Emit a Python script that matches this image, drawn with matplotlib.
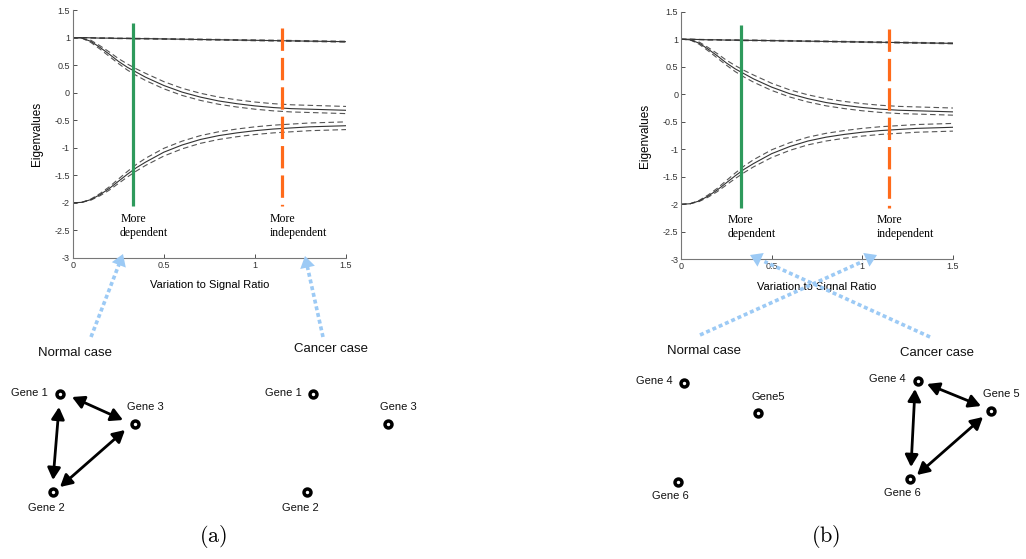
import matplotlib.pyplot as plt
from matplotlib.patches import FancyArrowPatch

plt.rcParams["axes.unicode_minus"] = False
plt.rcParams["mathtext.fontset"] = "cm"

SANS = "Liberation Sans"
SERIF = "Liberation Serif"

# eigenvalue curves vs variation-to-signal ratio (mean and +/- band)
ratio = [0.0, 0.05, 0.1, 0.15, 0.2, 0.25, 0.3, 0.35, 0.4, 0.5, 0.6, 0.7,
         0.8, 0.9, 1.0, 1.1, 1.2, 1.3, 1.4, 1.5]

top_mean = [1.0, 1.0, 0.995, 0.99, 0.99, 0.985, 0.985, 0.98, 0.98, 0.975, 0.97,
            0.965, 0.96, 0.955, 0.95, 0.945, 0.94, 0.935, 0.93, 0.925]
top_hi = [1.0, 1.0, 0.998, 0.995, 0.994, 0.99, 0.99, 0.986, 0.986, 0.981, 0.977,
          0.972, 0.967, 0.962, 0.958, 0.953, 0.948, 0.943, 0.938, 0.933]
top_lo = [1.0, 1.0, 0.992, 0.986, 0.985, 0.98, 0.979, 0.974, 0.973, 0.968, 0.963,
          0.958, 0.953, 0.948, 0.942, 0.937, 0.932, 0.927, 0.922, 0.917]

mid_mean = [1.0, 0.99, 0.93, 0.82, 0.70, 0.57, 0.46, 0.37, 0.28, 0.13, 0.01, -0.08,
            -0.15, -0.20, -0.24, -0.27, -0.29, -0.30, -0.31, -0.32]
mid_hi = [1.0, 0.99, 0.95, 0.85, 0.74, 0.62, 0.52, 0.43, 0.35, 0.20, 0.08, -0.01,
          -0.08, -0.13, -0.17, -0.20, -0.22, -0.23, -0.24, -0.25]
mid_lo = [1.0, 0.99, 0.91, 0.79, 0.66, 0.53, 0.41, 0.31, 0.22, 0.07, -0.05, -0.14,
          -0.21, -0.26, -0.30, -0.33, -0.35, -0.36, -0.37, -0.38]

low_mean = [-2.0, -1.99, -1.94, -1.85, -1.74, -1.61, -1.48, -1.36, -1.26, -1.08,
            -0.95, -0.85, -0.78, -0.73, -0.69, -0.66, -0.64, -0.62, -0.61, -0.60]
low_hi = [-2.0, -1.99, -1.93, -1.83, -1.71, -1.57, -1.43, -1.30, -1.19, -1.01,
          -0.88, -0.78, -0.71, -0.66, -0.62, -0.59, -0.57, -0.55, -0.54, -0.53]
low_lo = [-2.0, -1.99, -1.95, -1.87, -1.77, -1.65, -1.53, -1.42, -1.32, -1.15,
          -1.02, -0.92, -0.85, -0.80, -0.76, -0.73, -0.71, -0.69, -0.68, -0.67]

dependent_ratio = 0.33
independent_ratio = 1.15
marker_top = [1.26, 1.18]
marker_bottom = -2.06

y_ticks = [1.5, 1, 0.5, 0, -0.5, -1, -1.5, -2, -2.5, -3]
y_tick_labels = ["1.5", "1", "0.5", "0", "-0.5", "-1", "-1.5", "-2", "-2.5", "-3"]
x_ticks = [0, 0.5, 1, 1.5]
x_tick_labels = ["0", "0.5", "1", "1.5"]

# gene network layouts (pixel coordinates on the figure)
networks = [
    {   # (a) normal: all connected
        "nodes": {"Gene 1": (60, 394), "Gene 3": (135, 424), "Gene 2": (53, 492)},
        "labels": {"Gene 1": (48, 393, "right"), "Gene 3": (145, 407, "center"),
                   "Gene 2": (46, 508, "center")},
        "edges": [((72, 397), (123, 420)), ((59, 407), (53, 480)), ((60, 487), (125, 430))],
    },
    {   # (a) cancer: no links
        "nodes": {"Gene 1": (313, 394), "Gene 3": (388, 424), "Gene 2": (307, 492)},
        "labels": {"Gene 1": (302, 393, "right"), "Gene 3": (398, 407, "center"),
                   "Gene 2": (300, 508, "center")},
        "edges": [],
    },
    {   # (b) normal: no links
        "nodes": {"Gene 4": (684, 383), "Gene5": (758, 413), "Gene 6": (678, 482)},
        "labels": {"Gene 4": (673, 381, "right"), "Gene5": (768, 397, "center"),
                   "Gene 6": (670, 496, "center")},
        "edges": [],
    },
    {   # (b) cancer: all connected
        "nodes": {"Gene 4": (918, 381), "Gene 5": (991, 411), "Gene 6": (910, 479)},
        "labels": {"Gene 4": (906, 379, "right"), "Gene 5": (1001, 394, "center"),
                   "Gene 6": (902, 493, "center")},
        "edges": [((927, 384), (981, 406)), ((915, 389), (911, 467)), ((917, 475), (983, 417))],
    },
]

case_labels = [("Normal case", 75, 353), ("Cancer case", 331, 349),
               ("Normal case", 704, 351), ("Cancer case", 937, 353)]

# dotted pointers from case labels up to the ratio axis
pointers = [((91, 337), (123, 254)), ((323, 337), (305, 256)),
            ((700, 335), (877, 255)), ((930, 337), (750, 255))]

BLUE = "#9ccaf5"


def draw_eigen_panel(ax):
    for mean, hi, lo in [(top_mean, top_hi, top_lo), (mid_mean, mid_hi, mid_lo),
                         (low_mean, low_hi, low_lo)]:
        ax.plot(ratio, hi, color="#555555", lw=0.8, ls=(0, (5, 3)))
        ax.plot(ratio, lo, color="#555555", lw=0.8, ls=(0, (5, 3)))
        ax.plot(ratio, mean, color="#333333", lw=0.8)

    ax.plot([dependent_ratio, dependent_ratio], [marker_top[0], marker_bottom],
            color="#2e9a5c", lw=2.3, solid_capstyle="butt")
    # drawn top-down so the dash pattern starts at the top
    ax.plot([independent_ratio, independent_ratio], [marker_top[1], marker_bottom],
            color="#ff6a1a", lw=2.3, ls=(0, (7, 2.2)), dash_capstyle="butt")

    ax.text(0.26, -2.18, "More\ndependent", family=SERIF, fontsize=8.5,
            va="top", ha="left", linespacing=1.25)
    ax.text(1.08, -2.18, "More\nindependent", family=SERIF, fontsize=8.5,
            va="top", ha="left", linespacing=1.25)

    ax.set_xlim(0, 1.5)
    ax.set_ylim(-3, 1.5)
    ax.set_xticks(x_ticks)
    ax.set_xticklabels(x_tick_labels, family=SANS, fontsize=6.5)
    ax.set_yticks(y_ticks)
    ax.set_yticklabels(y_tick_labels, family=SANS, fontsize=6.5)
    ax.tick_params(direction="in", length=3, width=0.6, colors="#333333", pad=2)
    for side in ["top", "right"]:
        ax.spines[side].set_visible(False)
    for side in ["left", "bottom"]:
        ax.spines[side].set_color("#777777")
        ax.spines[side].set_linewidth(0.8)
    ax.set_ylabel("Eigenvalues", family=SANS, fontsize=8.5)
    ax.set_xlabel("Variation to Signal Ratio", family=SANS, fontsize=8)
    ax.yaxis.set_label_coords(-0.11, 0.5)
    ax.xaxis.set_label_coords(0.5, -0.09)


fig = plt.figure(figsize=(10.26, 5.59), dpi=100)
ax_a = fig.add_axes([0.0709, 0.5385, 0.2664, 0.4436])
ax_b = fig.add_axes([0.6637, 0.5361, 0.2651, 0.4429])
draw_eigen_panel(ax_a)
draw_eigen_panel(ax_b)

# overlay in pixel coordinates for the networks and pointers
ov = fig.add_axes([0, 0, 1, 1], zorder=5)
ov.set_xlim(0, 1026)
ov.set_ylim(559, 0)
ov.axis("off")

for (x0, y0), (x1, y1) in pointers:
    dx, dy = x1 - x0, y1 - y0
    ov.plot([x0, x1 - 0.08 * dx], [y0, y1 - 0.08 * dy], color=BLUE, lw=2.6,
            ls=(0, (1.1, 0.8)), solid_capstyle="butt")
    ov.add_patch(FancyArrowPatch((x1 - 0.1 * dx, y1 - 0.1 * dy), (x1, y1),
                                 arrowstyle="-|>,head_length=0.7,head_width=0.45",
                                 mutation_scale=12, color=BLUE, lw=0,
                                 shrinkA=0, shrinkB=0))

for text, x, y in case_labels:
    ov.text(x, y, text, family=SANS, fontsize=9.5, ha="center", va="center",
            color="#111111")

for net in networks:
    for (x0, y0), (x1, y1) in net["edges"]:
        ov.add_patch(FancyArrowPatch((x0, y0), (x1, y1),
                                     arrowstyle="<|-|>,head_length=0.55,head_width=0.3",
                                     mutation_scale=13, color="black", lw=2,
                                     shrinkA=0, shrinkB=0))
    for name, (x, y) in net["nodes"].items():
        ov.plot(x, y, "o", ms=5, mfc="white", mec="black", mew=2.5)
    for name, (x, y, ha) in net["labels"].items():
        ov.text(x, y, name, family=SANS, fontsize=8, ha=ha, va="center",
                color="#111111")

ov.text(213, 537, r"$\mathrm{(a)}$", fontsize=16, ha="center", va="center")
ov.text(826, 537, r"$\mathrm{(b)}$", fontsize=16, ha="center", va="center")

fig.savefig("out.png", dpi=100, facecolor="white")
